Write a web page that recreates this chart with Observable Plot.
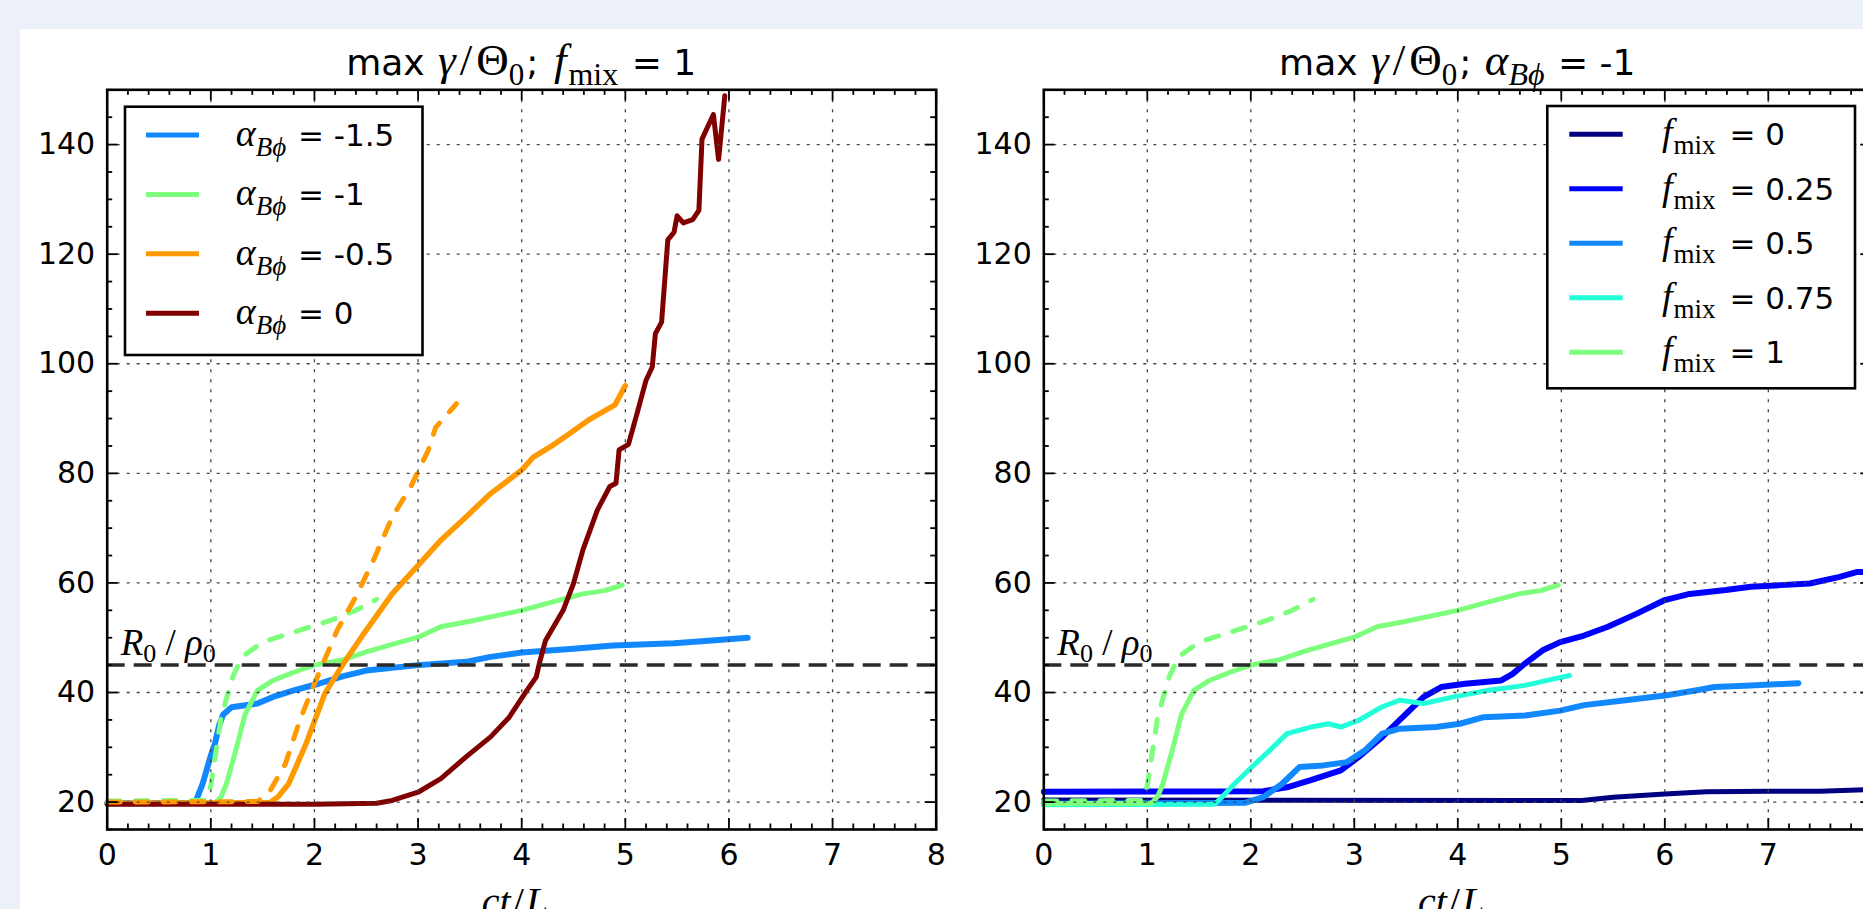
<!DOCTYPE html>
<html><head><meta charset="utf-8">
<script src="https://cdn.jsdelivr.net/npm/d3@7"></script>
<script src="https://cdn.jsdelivr.net/npm/@observablehq/plot@0.6"></script>
<style>
html,body{margin:0;padding:0;width:1863px;height:909px;overflow:hidden;background:#ecf0f8;}
#card{position:absolute;left:20px;top:29px;width:1900px;height:940px;background:#fff;}
.panel{position:absolute;top:0;width:960px;}
.panel svg{overflow:visible;max-width:none !important;}
.panel svg g[aria-label$="tick label"] text{font-family:"DejaVu Sans",sans-serif;font-size:30px;}
</style></head><body>
<div id="card"></div>
<div id="left" class="panel" style="left:0px"></div>
<div id="right" class="panel" style="left:960px"></div>
<script>
// warm up the local fonts so the first layout uses them
(() => {
  const c = document.createElement("canvas").getContext("2d");
  for (const f of ['30px "DejaVu Sans"', 'italic 36px "Liberation Serif"', '36px "Liberation Serif"']) { c.font = f; c.measureText("max 0123456789 γΘαϕρ"); }
})();

// ---------- axes ----------
const xDomain = [0, 8];
const yDomain = [15, 150];
const xTicks = [0, 1, 2, 3, 4, 5, 6, 7, 8];
const yTicks = [20, 40, 60, 80, 100, 120, 140];
const xGrid = [1, 2, 3, 4, 5, 6, 7];
const yGrid = [20, 40, 60, 80, 100, 120, 140];
const r0Level = [45];

// ---------- left panel: f_mix = 1, varying alpha_Bphi ----------
const alphaLabels = ["-1.5", "-1", "-0.5", "0"];
const alphaColors = ["#1288ff", "#7dff7d", "#ff9900", "#800000"];
const alphaM15 = [[0,19.8],[0.85,19.9],[0.92,23.3],[1.0,28.5],[1.04,30.7],[1.08,34],[1.12,36],[1.2,37.3],[1.3,37.6],[1.45,38],[1.6,39.2],[1.8,40.4],[2.04,41.6],[2.28,43],[2.5,44],[3.0,45],[3.46,45.6],[3.7,46.5],[4.0,47.3],[4.5,48],[4.88,48.6],[5.47,49],[5.9,49.6],[6.18,50]];
const alphaM1 = [[0,19.7],[1.04,19.8],[1.1,21],[1.15,23.3],[1.24,29.4],[1.33,36],[1.45,40.4],[1.6,42.2],[1.8,43.7],[2.0,45],[2.28,46],[2.5,47.4],[2.75,48.8],[3.0,50.1],[3.22,52],[3.5,53],[3.7,53.8],[4.0,55],[4.29,56.5],[4.59,58],[4.8,58.6],[4.97,59.6]];
const alphaM05 = [[0,19.8],[1.57,19.9],[1.65,21],[1.75,23.3],[1.92,30.7],[2.1,39.8],[2.28,45.3],[2.5,51.4],[2.75,58],[3.0,63.2],[3.22,67.8],[3.46,72],[3.7,76.3],[4.0,80.6],[4.11,82.9],[4.29,85],[4.48,87.5],[4.66,89.9],[4.9,92.5],[5.0,96]];
const alpha0 = [[0,19.6],[2.0,19.6],[2.6,19.8],[2.75,20.3],[3.0,21.8],[3.22,24.3],[3.46,28.2],[3.7,31.9],[3.88,35.5],[4.05,40.4],[4.14,42.8],[4.17,45.3],[4.23,49.5],[4.4,55],[4.5,59.9],[4.59,66],[4.73,73.3],[4.85,77.6],[4.91,78.2],[4.94,84.3],[5.03,85.3],[5.12,91.4],[5.2,97],[5.26,99.4],[5.29,105.5],[5.35,107.6],[5.41,122.6],[5.47,124],[5.5,127],[5.56,125.7],[5.65,126.3],[5.71,128],[5.74,141],[5.85,145.5],[5.9,137.3],[5.96,148.9]];
const alphaM1Dashed = [[0,20.2],[0.95,20.3],[1.0,23],[1.1,35.5],[1.21,42.8],[1.3,46.5],[1.5,49.2],[1.8,51],[2.16,53.2],[2.4,55],[2.6,57]];
const alphaM05Dashed = [[0,20],[1.45,20.1],[1.57,22],[1.72,27],[1.86,35],[2.0,41.6],[2.22,51.4],[2.4,57.5],[2.57,64.2],[2.75,72],[2.93,77.6],[3.1,84.3],[3.17,88.4],[3.37,92.7]];

// ---------- right panel: alpha_Bphi = -1, varying f_mix ----------
const fmixLabels = ["0", "0.25", "0.5", "0.75", "1"];
const fmixColors = ["#000080", "#0000ff", "#1288ff", "#22ffd9", "#7dff7d"];
const fmix0 = [[0,20.4],[5.2,20.3],[5.5,20.9],[6.0,21.5],[6.4,21.9],[7.0,22],[7.5,22],[8,22.3]];
const fmix025 = [[0,21.9],[2.12,22],[2.35,22.7],[2.58,24],[2.87,25.8],[3.04,28.2],[3.27,31.9],[3.5,36.1],[3.67,39.2],[3.84,41],[4.07,41.6],[4.42,42.2],[4.53,43.4],[4.65,45.3],[4.82,47.7],[4.99,49.2],[5.22,50.4],[5.45,52],[5.73,54.4],[5.99,56.8],[6.24,58],[6.59,58.7],[6.83,59.3],[7.12,59.6],[7.4,59.9],[7.69,61.1],[7.86,62],[8,62]];
const fmix05 = [[0,19.7],[1.95,19.9],[2.12,20.9],[2.3,23.3],[2.47,26.4],[2.7,26.7],[2.93,27.3],[3.1,29.4],[3.27,32.5],[3.44,33.4],[3.79,33.7],[4.02,34.3],[4.25,35.5],[4.65,35.8],[4.99,36.7],[5.22,37.7],[5.62,38.6],[6.02,39.5],[6.31,40.4],[6.48,41],[6.83,41.3],[7.29,41.7]];
const fmix075 = [[0,19.5],[1.65,19.6],[1.72,20.9],[1.84,23.3],[2.01,26.4],[2.18,29.4],[2.35,32.5],[2.58,33.7],[2.75,34.3],[2.87,33.7],[3.04,34.9],[3.27,37.4],[3.44,38.6],[3.67,38],[3.96,39.2],[4.3,40.4],[4.65,41.3],[4.93,42.5],[5.08,43.1]];
const fmix1 = alphaM1;
const fmix1Dashed = alphaM1Dashed;

// ---------- rendering ----------
const SANS = '"DejaVu Sans"', SERIF = '"Liberation Serif"';
const W = 960, H = 935, MT = 89.3, MB = H - 829;

function rich(sel, x, y, anchor, parts) {
  const t = sel.append("text").attr("x", x).attr("y", y).attr("text-anchor", anchor)
    .attr("fill", "#000").style("white-space", "pre");
  let cur = 0;
  for (const p of parts) {
    const s = p.sub || 0;
    t.append("tspan").attr("dy", s - cur).attr("dx", p.dx || 0)
      .style("font-family", p.serif ? SERIF : SANS)
      .style("font-style", p.it ? "italic" : "normal")
      .style("font-size", p.size + "px").text(p.t);
    cur = s;
  }
  return t;
}

function panel(el, cfg) {
  const ml = cfg.ml, mr = cfg.mr;
  const kx = (W - ml - mr) / (xDomain[1] - xDomain[0]);
  const ky = (H - MT - MB) / (yDomain[1] - yDomain[0]);
  const xMinor = d3.range(0, 8.001, 0.2).filter(v => Math.abs(v - Math.round(v)) > 1e-6);
  const yMinor = d3.range(15, 150.001, 5).filter(v => v % 20 !== 0);
  const Lmaj = 11, Lmin = 5.5, tw = 1.8;
  const marks = [];
  for (const s of cfg.solids)
    marks.push(Plot.line(s.data, {x: d => d[0], y: d => d[1], stroke: s.color, strokeWidth: s.w || 4.8, strokeLinejoin: "round"}));
  for (const s of cfg.dashed)
    marks.push(Plot.line(s.data, {x: d => d[0], y: d => d[1], stroke: s.color, strokeWidth: 5, strokeDasharray: "13,15"}));
  marks.push(
    Plot.ruleX(xGrid, {stroke: "#444", strokeWidth: 1.3, strokeDasharray: "3,7"}),
    Plot.ruleY(yGrid, {stroke: "#444", strokeWidth: 1.3, strokeDasharray: "3,7"}),
    Plot.ruleY(r0Level, {stroke: "#2a2a2a", strokeWidth: 3.5, strokeDasharray: "18,9"}),
    Plot.ruleX(xTicks, {x: d => d, y1: yDomain[0], y2: yDomain[0] + Lmaj / ky, stroke: "#000", strokeWidth: tw}),
    Plot.ruleX(xTicks, {x: d => d, y1: yDomain[1], y2: yDomain[1] - Lmaj / ky, stroke: "#000", strokeWidth: tw}),
    Plot.ruleX(xMinor, {x: d => d, y1: yDomain[0], y2: yDomain[0] + Lmin / ky, stroke: "#000", strokeWidth: tw}),
    Plot.ruleX(xMinor, {x: d => d, y1: yDomain[1], y2: yDomain[1] - Lmin / ky, stroke: "#000", strokeWidth: tw}),
    Plot.ruleY(yTicks, {y: d => d, x1: xDomain[0], x2: xDomain[0] + Lmaj / kx, stroke: "#000", strokeWidth: tw}),
    Plot.ruleY(yTicks, {y: d => d, x1: xDomain[1], x2: xDomain[1] - Lmaj / kx, stroke: "#000", strokeWidth: tw}),
    Plot.ruleY(yMinor, {y: d => d, x1: xDomain[0], x2: xDomain[0] + Lmin / kx, stroke: "#000", strokeWidth: tw}),
    Plot.ruleY(yMinor, {y: d => d, x1: xDomain[1], x2: xDomain[1] - Lmin / kx, stroke: "#000", strokeWidth: tw}),
    Plot.frame({stroke: "#000", strokeWidth: 2.6}),
    Plot.axisX(xTicks, {tickSize: 0, tickPadding: 14, label: null, fontSize: 30}),
    Plot.axisY(yTicks, {tickSize: 0, tickPadding: 12, label: null, fontSize: 30})
  );
  const chart = Plot.plot({
    width: W, height: H, marginTop: MT, marginBottom: MB, marginLeft: ml, marginRight: mr,
    x: {domain: xDomain}, y: {domain: yDomain},
    style: {fontFamily: SANS, fontSize: "30px", background: "transparent", overflow: "visible", color: "#000"},
    marks
  });
  el.appendChild(chart);
  const svg = d3.select(chart);
  const sx = chart.scale("x"), sy = chart.scale("y");
  const cx = (sx.apply(xDomain[0]) + sx.apply(xDomain[1])) / 2;
  rich(svg, cx, 75, "middle", cfg.title);
  rich(svg, cx, 915, "middle", [
    {t: "ct", serif: 1, it: 1, size: 40}, {t: "/", serif: 1, size: 40, dx: 2}, {t: "L", serif: 1, it: 1, size: 40, dx: 2},
    {t: "x", serif: 1, it: 1, size: 28, sub: 8}
  ]);
  rich(svg, sx.apply(0) + 14, sy.apply(r0Level[0]) - 9.5, "start", [
    {t: "R", serif: 1, it: 1, size: 37}, {t: "0", serif: 1, size: 26, sub: 7},
    {t: " / ", serif: 1, size: 37}, {t: "ρ", serif: 1, it: 1, size: 37}, {t: "0", serif: 1, size: 26, sub: 7}
  ]);
  const L = cfg.legend;
  const g = svg.append("g");
  g.append("rect").attr("x", L.x0).attr("y", L.y0).attr("width", L.x1 - L.x0).attr("height", L.y1 - L.y0)
    .attr("fill", "#fff").attr("stroke", "#000").attr("stroke-width", 2.6);
  L.items.forEach((it, i) => {
    const y = L.first + i * L.step;
    g.append("line").attr("x1", L.lx0).attr("x2", L.lx1).attr("y1", y).attr("y2", y)
      .attr("stroke", it.color).attr("stroke-width", 5);
    rich(g, L.tx, y + 11, "start", it.parts);
  });
  return chart;
}

const mathTitle = (tail) => [
  {t: "max ", size: 36}, {t: "γ", serif: 1, it: 1, size: 45, dx: 2}, {t: "/", serif: 1, size: 45, dx: 4},
  {t: "Θ", serif: 1, size: 45, dx: 4}, {t: "0", serif: 1, size: 31, sub: 10}, {t: "; ", size: 36, dx: 2}, ...tail
];

panel(document.getElementById("left"), {
  ml: 106.7, mr: W - 935.7,
  solids: [
    {data: alphaM15, color: alphaColors[0], w: 6},
    {data: alphaM1, color: alphaColors[1], w: 5},
    {data: alphaM05, color: alphaColors[2], w: 5.5},
    {data: alpha0, color: alphaColors[3], w: 5}
  ],
  dashed: [
    {data: alphaM1Dashed, color: alphaColors[1]},
    {data: alphaM05Dashed, color: alphaColors[2]}
  ],
  title: mathTitle([{t: "f", serif: 1, it: 1, size: 45, dx: 4}, {t: "mix", serif: 1, size: 32, sub: 10, dx: 2}, {t: " = 1", size: 36, dx: 2}]),
  legend: {
    x0: 125, y0: 106.7, x1: 422.5, y1: 355, first: 135, step: 59.4, lx0: 146, lx1: 199, tx: 235.7,
    items: alphaLabels.map((a, i) => ({color: alphaColors[i], parts: [
      {t: "α", serif: 1, it: 1, size: 38}, {t: "Bϕ", serif: 1, it: 1, size: 27, sub: 10}, {t: " = " + a, size: 31, dx: 2}
    ]}))
  }
});

panel(document.getElementById("right"), {
  ml: 1043.3 - 960, mr: W - (1871.3 - 960),
  solids: [
    {data: fmix0, color: fmixColors[0], w: 5},
    {data: fmix025, color: fmixColors[1], w: 6},
    {data: fmix05, color: fmixColors[2], w: 6},
    {data: fmix075, color: fmixColors[3], w: 5},
    {data: fmix1, color: fmixColors[4], w: 5}
  ],
  dashed: [
    {data: fmix1Dashed, color: fmixColors[4]}
  ],
  title: mathTitle([{t: "α", serif: 1, it: 1, size: 45, dx: 2}, {t: "Bϕ", serif: 1, it: 1, size: 32, sub: 10}, {t: " = -1", size: 36, dx: 2}]),
  legend: {
    x0: 1547.3 - 960, y0: 106, x1: 1855 - 960, y1: 388.3, first: 134.3, step: 54.5,
    lx0: 1569.3 - 960, lx1: 1622.7 - 960, tx: 1660 - 960,
    items: fmixLabels.map((f, i) => ({color: fmixColors[i], parts: [
      {t: "f", serif: 1, it: 1, size: 38, dx: 2}, {t: "mix", serif: 1, size: 27, sub: 9, dx: 1}, {t: " = " + f, size: 31, dx: 4}
    ]}))
  }
});
</script></body></html>
